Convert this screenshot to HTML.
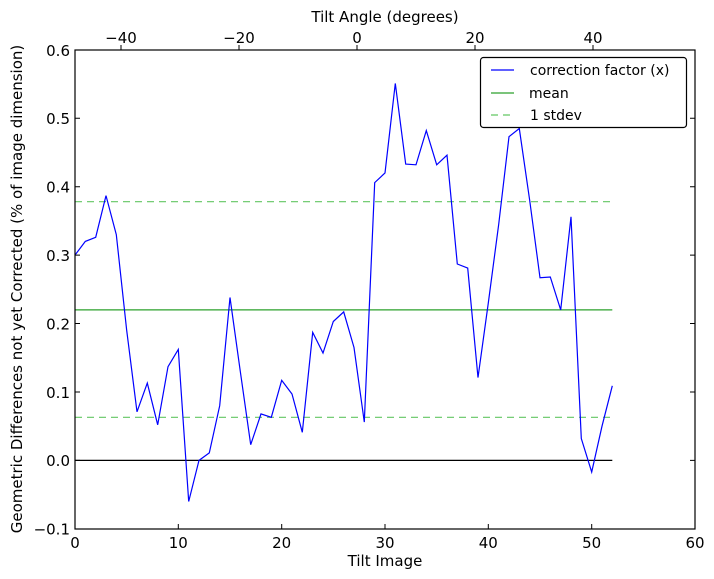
<!DOCTYPE html>
<html><head><meta charset="utf-8"><style>
html,body{margin:0;padding:0;background:#fff;}
svg{display:block;font-family:"DejaVu Sans","Liberation Sans",sans-serif;}
</style></head><body>
<svg width="714" height="579" viewBox="0 0 714 579" xmlns="http://www.w3.org/2000/svg">
<rect width="714" height="579" fill="#fff"/>
<line x1="75" x2="612.3" y1="460.4" y2="460.4" stroke="#000" stroke-width="1.3"/>
<line x1="75" x2="612.3" y1="309.9" y2="309.9" stroke="#2ca02c" stroke-width="1.2"/>
<line x1="75" x2="612.3" y1="201.7" y2="201.7" stroke="#3cb83c" stroke-width="1.2" stroke-dasharray="7,5" opacity="0.8"/>
<line x1="75" x2="612.3" y1="417.3" y2="417.3" stroke="#3cb83c" stroke-width="1.2" stroke-dasharray="7,5" opacity="0.8"/>
<polyline fill="none" stroke="#0000ff" stroke-width="1.2" points="75.0,255.1 85.3,241.4 95.7,237.3 106.0,195.6 116.3,234.6 126.7,330.4 137.0,411.8 147.3,383.1 157.7,424.8 168.0,366.7 178.3,349.5 188.7,501.5 199.0,460.4 209.3,452.9 219.7,405.7 230.0,297.5 240.3,371.4 250.7,444.7 261.0,413.9 271.3,417.3 281.7,380.3 292.0,394.0 302.3,432.3 312.7,332.4 323.0,353.0 333.3,321.5 343.7,311.9 354.0,347.5 364.3,422.1 374.7,182.6 385.0,173.0 395.3,83.4 405.7,164.1 416.0,164.8 426.3,130.6 436.7,164.8 447.0,155.2 457.3,264.0 467.7,268.1 478.0,377.6 488.3,303.0 498.7,224.3 509.0,136.7 519.3,128.5 529.7,200.4 540.0,277.7 550.3,277.0 560.7,309.9 571.0,216.8 581.3,438.5 591.7,472.0 602.0,426.2 612.3,385.8"/>
<rect x="75" y="50" width="620" height="479" fill="none" stroke="#000" stroke-width="1.2"/>
<g stroke="#000" stroke-width="1">
<path d="M75 529v-5M178.3 529v-5M281.7 529v-5M385 529v-5M488.3 529v-5M591.7 529v-5M695 529v-5"/>
<path d="M121 50v-5M239 50v-5M357 50v-5M475 50v-5M593 50v-5"/>
<path d="M75 118.3h5M75 186.7h5M75 255.1h5M75 323.5h5M75 392h5M75 460.4h5"/>
<path d="M695 118.3h-5M695 186.7h-5M695 255.1h-5M695 323.5h-5M695 392h-5M695 460.4h-5"/>
</g>
<g font-size="15" text-anchor="middle">
<text x="75" y="548">0</text><text x="178.3" y="548">10</text><text x="281.7" y="548">20</text><text x="385" y="548">30</text><text x="488.3" y="548">40</text><text x="591.7" y="548">50</text><text x="695" y="548">60</text>
<text x="121" y="43">−40</text><text x="239" y="43">−20</text><text x="357" y="43">0</text><text x="475" y="43">20</text><text x="593" y="43">40</text>
<text x="385" y="22">Tilt Angle (degrees)</text>
<text x="385" y="566">Tilt Image</text>
<text transform="translate(22,289) rotate(-90)">Geometric Differences not yet Corrected (% of image dimension)</text>
</g>
<g font-size="15" text-anchor="end">
<text x="70" y="56">0.6</text><text x="70" y="124">0.5</text><text x="70" y="192.5">0.4</text><text x="70" y="261">0.3</text><text x="70" y="329.3">0.2</text><text x="70" y="397.8">0.1</text><text x="70" y="466.2">0.0</text><text x="70" y="534.6">−0.1</text>
</g>
<rect x="480.5" y="57.5" width="206" height="70" rx="3" fill="#fff" stroke="#000" stroke-width="1.2"/>
<line x1="491" x2="514" y1="70" y2="70" stroke="#0000ff" stroke-width="1.2"/><text x="530" y="75" font-size="14">correction factor (x)</text>
<line x1="491" x2="514" y1="93" y2="93" stroke="#2ca02c" stroke-width="1.2"/><text x="529" y="98" font-size="14">mean</text>
<line x1="491" x2="514" y1="115" y2="115" stroke="#3cb83c" stroke-width="1.2" stroke-dasharray="7,5" opacity="0.8"/><text x="530" y="120" font-size="14">1 stdev</text>
</svg>
</body></html>
